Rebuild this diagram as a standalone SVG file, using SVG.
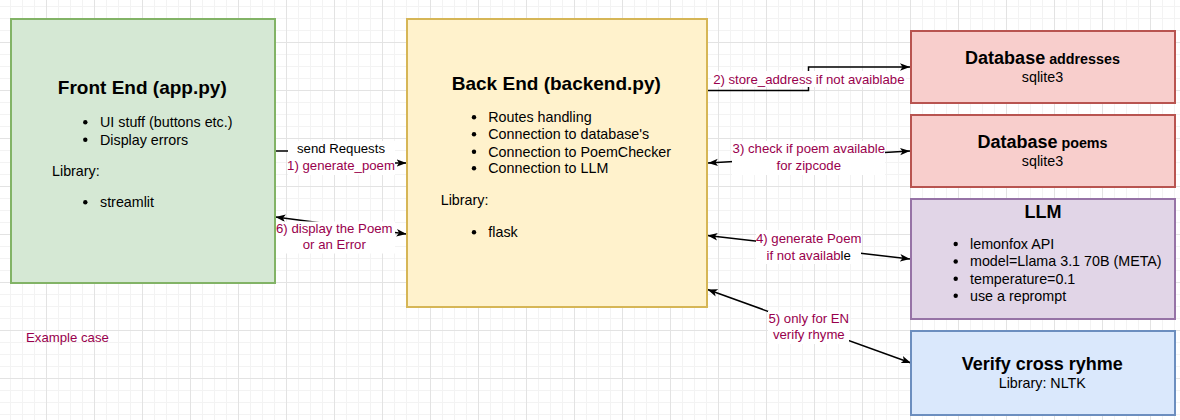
<svg xmlns="http://www.w3.org/2000/svg" width="1180" height="420" viewBox="0 0 1180 420">
  <style>
    text { font-family: "Liberation Sans", Arial, Helvetica, sans-serif; fill: #000; }
    .title { font-size: 19px; font-weight: bold; text-anchor: middle; }
    .title18 { font-size: 18px; font-weight: bold; text-anchor: middle; }
    .sub { font-size: 14.3px; font-weight: bold; }
    .body { font-size: 14.3px; }
    .mid { text-anchor: middle; }
    .lbl { font-size: 13.2px; text-anchor: middle; fill: #99004D; }
    .lblk { fill: #000; }
    .purple { font-size: 13.2px; fill: #99004D; }
    .dot { fill: #000; }
    .edge { fill: none; stroke: #000; stroke-width: 1.5; }
    .lblbg { fill: #fff; }
  </style>
  <defs>
    <pattern id="grid" patternUnits="userSpaceOnUse" x="46" y="42" width="48" height="48">
      <path d="M12.5,0 V48 M24.5,0 V48 M36.5,0 V48 M0,12.5 H48 M0,24.5 H48 M0,36.5 H48" fill="none" stroke="#f3f3f3" stroke-width="1"/>
      <path d="M0.5,0 V48 M0,0.5 H48" fill="none" stroke="#e3e3e3" stroke-width="1"/>
    </pattern>
    <marker id="arrow" markerUnits="userSpaceOnUse" markerWidth="10" markerHeight="8" refX="10" refY="3.75" orient="auto-start-reverse" viewBox="0 0 10 7.5">
      <path d="M0,0 L10,3.75 L0,7.5 L2.5,3.75 Z" fill="#000"/>
    </marker>
  </defs>

  <rect x="0" y="0" width="1180" height="420" fill="#fff"/>
  <rect x="0" y="0" width="1180" height="420" fill="url(#grid)"/>

  <g id="connectors">
    <path class="edge" d="M275,151 H341 V163 H406.5" marker-end="url(#arrow)"/>
    <path class="edge" d="M275.5,217 L406.5,234" marker-start="url(#arrow)" marker-end="url(#arrow)"/>
    <path class="edge" d="M707,90.5 H808.5 V67 H910" marker-end="url(#arrow)"/>
    <path class="edge" d="M708,163 L910,151" marker-start="url(#arrow)" marker-end="url(#arrow)"/>
    <path class="edge" d="M707.5,235.5 L910,259" marker-start="url(#arrow)" marker-end="url(#arrow)"/>
    <path class="edge" d="M707.5,289.5 L911,363" marker-start="url(#arrow)" marker-end="url(#arrow)"/>

    <rect class="lblbg" x="288" y="141" width="107" height="34"/>
    <text class="lbl" x="341" y="153"><tspan class="lblk">send Requests</tspan></text>
    <text class="lbl" x="341" y="169.5">1) generate_poem</text>

    <rect class="lblbg" x="276" y="221.5" width="119" height="32"/>
    <text class="lbl" x="334.3" y="232.5">6) display the Poem</text>
    <text class="lbl" x="334.3" y="249">or an Error</text>

    <rect class="lblbg" x="711" y="71" width="195" height="16"/>
    <text class="lbl" x="808.8" y="83.5">2) store_address if not avaiblabe</text>

    <rect class="lblbg" x="732" y="141" width="153" height="34"/>
    <text class="lbl" x="808.8" y="153">3) check if poem available</text>
    <text class="lbl" x="808.8" y="169.5">for zipcode</text>

    <rect class="lblbg" x="756" y="230" width="105" height="34"/>
    <text class="lbl" x="808.7" y="243">4) generate Poem</text>
    <text class="lbl" x="808.7" y="259.5">if not availab<tspan class="lblk">le</tspan></text>

    <rect class="lblbg" x="768" y="311" width="81" height="33"/>
    <text class="lbl" x="808.8" y="322.5">5) only for EN</text>
    <text class="lbl" x="808.8" y="339">verify rhyme</text>
  </g>

  <g id="frontend">
    <rect x="11" y="19" width="264" height="264" fill="#d5e8d4" stroke="#82b366" stroke-width="2"/>
    <text class="title" x="142.3" y="94.3">Front End (app.py)</text>
    <circle class="dot" cx="85.3" cy="122.3" r="2.2"/>
    <text class="body" x="100" y="127">UI stuff (buttons etc.)</text>
    <circle class="dot" cx="85.3" cy="139.8" r="2.2"/>
    <text class="body" x="100" y="144.5">Display errors</text>
    <text class="body" x="52" y="176">Library:</text>
    <circle class="dot" cx="85.3" cy="202.3" r="2.2"/>
    <text class="body" x="100" y="207">streamlit</text>
  </g>

  <g id="backend">
    <rect x="407" y="19" width="300" height="288" fill="#fff2cc" stroke="#d6b656" stroke-width="2"/>
    <text class="title" x="556.3" y="89.5">Back End (backend.py)</text>
    <circle class="dot" cx="474" cy="117.3" r="2.2"/>
    <text class="body" x="488.3" y="122">Routes handling</text>
    <circle class="dot" cx="474" cy="134.3" r="2.2"/>
    <text class="body" x="488.3" y="139">Connection to database's</text>
    <circle class="dot" cx="474" cy="151.8" r="2.2"/>
    <text class="body" x="488.3" y="156.5">Connection to PoemChecker</text>
    <circle class="dot" cx="474" cy="168.3" r="2.2"/>
    <text class="body" x="488.3" y="173">Connection to LLM</text>
    <text class="body" x="440.7" y="205">Library:</text>
    <circle class="dot" cx="474" cy="232.3" r="2.2"/>
    <text class="body" x="488.3" y="237">flask</text>
  </g>

  <g id="db-addresses">
    <rect x="911" y="31" width="264" height="72" fill="#f8cecc" stroke="#b85450" stroke-width="2"/>
    <text class="title18" x="1042.5" y="64">Database<tspan class="sub"> addresses</tspan></text>
    <text class="body mid" x="1042.5" y="82">sqlite3</text>
  </g>

  <g id="db-poems">
    <rect x="911" y="115" width="264" height="72" fill="#f8cecc" stroke="#b85450" stroke-width="2"/>
    <text class="title18" x="1042.5" y="148">Database<tspan class="sub"> poems</tspan></text>
    <text class="body mid" x="1042.5" y="166">sqlite3</text>
  </g>

  <g id="llm">
    <rect x="911" y="199" width="264" height="120" fill="#e1d5e7" stroke="#9673a6" stroke-width="2"/>
    <text class="title18" x="1043" y="217.5">LLM</text>
    <circle class="dot" cx="955.7" cy="244" r="2.2"/>
    <text class="body" x="970" y="248.7">lemonfox API</text>
    <circle class="dot" cx="955.7" cy="261.5" r="2.2"/>
    <text class="body" x="970" y="266.2">model=Llama 3.1 70B (META)</text>
    <circle class="dot" cx="955.7" cy="278.8" r="2.2"/>
    <text class="body" x="970" y="283.5">temperature=0.1</text>
    <circle class="dot" cx="955.7" cy="295.8" r="2.2"/>
    <text class="body" x="970" y="300.5">use a reprompt</text>
  </g>

  <g id="verify">
    <rect x="911" y="331" width="264" height="84" fill="#dae8fc" stroke="#6c8ebf" stroke-width="2"/>
    <text class="title18" x="1042.3" y="370">Verify cross ryhme</text>
    <text class="body mid" x="1042.3" y="388">Library: NLTK</text>
  </g>

  <g id="example-case">
    <text class="purple" x="26" y="342.3">Example case</text>
  </g>
</svg>
